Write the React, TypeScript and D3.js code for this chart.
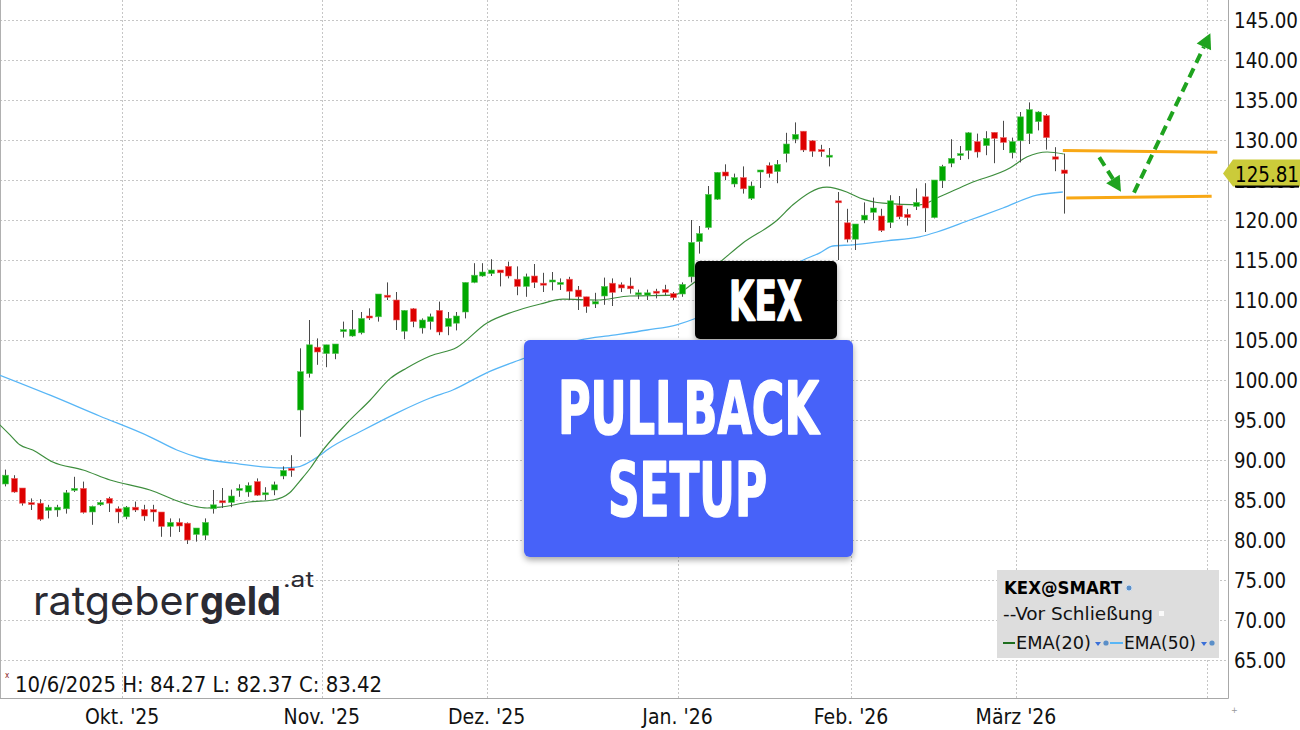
import React from "react";
import * as d3 from "d3";

const W = 1300;
const H = 730;

// OHLC values, one entry per trading day (index 0 = first visible candle)
const opens = [
  87.0, 87.7, 86.5, 84.67, 84.6, 83.7, 83.75, 83.9, 86.25, 86.45, 83.5, 84.4, 85.2, 83.9, 82.9, 84.1, 83.8, 83.8, 83.5, 81.7,
  82.2, 82.1, 80.7, 80.6, 83.9, 84.9, 84.7, 86.2, 86.0, 87.3, 85.75, 86.25, 88.0, 88.96,
  96.25, 100.8, 104.1, 103.3, 103.3, 106.1, 105.5, 105.9, 108.0, 107.9, 110.6, 110.0, 106.1, 108.9, 106.5, 107.3, 108.7, 106.7,
  107.1, 108.5, 112.2, 113.0, 113.3, 113.75, 114.2, 112.6, 111.7, 113.0, 112.1, 112.3, 112.0, 112.6, 111.25, 110.4, 109.5,
  110.5, 112.1, 111.9, 111.75, 110.7, 110.6, 111.1, 111.3, 110.8, 110.75,
  112.9, 117.3, 119.05, 122.6, 126.0, 124.5, 125.3, 122.7, 126.05, 126.8, 126.05, 128.3, 130.1, 131.1, 129.9, 128.8, 128.0,
  122.4, 119.65, 117.6,
  120.0, 120.96, 120.5, 119.7, 121.8, 120.7, 121.7, 122.9, 120.3, 124.9, 127.1, 128.1, 128.7, 129.8, 129.3, 130.96, 130.3,
  128.4, 129.9, 130.8, 132.3, 133.05, 127.9, 126.25,
];
const highs = [
  88.8, 88.1, 86.5, 85.2, 85.1, 84.4, 84.4, 86.25, 87.9, 87.3, 84.3, 85.0, 85.4, 84.2, 84.25, 84.8, 84.4, 84.4, 83.5, 82.7,
  82.7, 82.2, 81.5, 82.7, 86.25, 86.5, 86.3, 86.96, 87.2, 87.7, 86.6, 87.3, 89.2, 90.6,
  103.96, 107.5, 105.2, 104.4, 104.5, 107.3, 108.75, 108.5, 108.96, 110.75, 112.2, 111.0, 108.75, 109.0, 107.7, 108.3, 109.8,
  108.5, 108.5, 112.2, 114.6, 114.6, 115.1, 113.75, 114.8, 114.2, 113.3, 114.5, 113.4, 113.5, 112.7, 112.9, 111.75, 110.4,
  110.9, 112.8, 112.7, 112.2, 112.8, 111.3, 111.3, 111.4, 111.9, 111.0, 112.2,
  120.0, 119.25, 124.25, 126.0, 126.96, 125.8, 126.7, 124.8, 126.25, 127.2, 127.5, 130.9, 132.2, 131.1, 130.0, 129.4, 129.0,
  123.5, 121.4, 119.5,
  122.2, 122.8, 121.4, 123.1, 123.0, 121.4, 123.95, 124.6, 125.0, 126.9, 130.1, 129.25, 131.0, 130.8, 131.1, 130.96, 132.4,
  130.3, 133.5, 134.7, 133.6, 133.25, 129.1, 128.3,
];
const lows = [
  86.7, 85.9, 84.3, 83.75, 82.4, 82.7, 82.9, 83.3, 86.0, 83.3, 81.9, 84.25, 83.5, 82.1, 82.6, 83.5, 82.4, 82.3, 80.4, 80.4,
  81.0, 79.5, 79.8, 80.0, 83.3, 84.0, 84.1, 85.4, 85.4, 85.5, 85.0, 85.6, 87.6, 87.9,
  92.9, 100.3, 101.9, 101.6, 102.6, 105.3, 105.4, 105.7, 107.5, 107.3, 110.0, 106.25, 105.1, 106.6, 105.8, 106.3, 105.6,
  105.6, 106.2, 107.7, 112.1, 112.9, 113.0, 111.7, 112.7, 110.6, 110.4, 111.5, 111.0, 111.2, 111.25, 110.0, 108.75, 108.4,
  109.0, 109.4, 109.25, 111.0, 110.8, 110.1, 110.0, 110.2, 110.6, 110.0, 110.4,
  112.2, 115.8, 118.8, 122.5, 125.0, 124.1, 123.3, 122.5, 124.0, 125.3, 124.6, 127.2, 129.6, 128.5, 127.9, 127.9, 126.7,
  115.0, 117.2, 116.25,
  119.6, 120.0, 118.5, 119.0, 120.1, 119.3, 121.25, 118.5, 120.2, 124.0, 126.6, 127.5, 127.6, 127.8, 128.1, 127.1, 128.75,
  127.7, 127.2, 129.5, 131.2, 128.8, 126.1, 120.8,
];
const closes = [
  88.1, 86.0, 84.6, 84.46, 82.6, 84.1, 84.1, 85.9, 86.45, 83.46, 84.2, 84.7, 84.6, 83.5, 84.1, 83.75, 83.0, 83.5, 81.7, 82.2,
  81.75, 80.0, 81.5, 82.2, 84.4, 84.7, 85.5, 86.45, 86.8, 85.6, 85.9, 86.9, 88.7, 88.75,
  101.04, 104.4, 103.5, 104.4, 104.5, 106.3, 106.3, 107.7, 107.8, 110.75, 110.4, 107.5, 108.7, 107.3, 107.5, 107.9, 106.0,
  107.7, 108.0, 112.2, 113.1, 113.5, 113.75, 113.4, 113.0, 111.7, 112.9, 112.2, 111.9, 112.5, 112.2, 111.1, 110.4, 109.2,
  109.8, 111.7, 110.95, 111.5, 111.4, 110.9, 110.9, 110.9, 110.96, 110.3, 111.96,
  117.2, 118.3, 123.2, 125.96, 125.5, 125.3, 123.9, 124.25, 126.25, 125.8, 126.96, 129.5, 130.7, 128.75, 128.6, 128.6, 128.1,
  122.2, 117.6, 119.5,
  120.6, 121.5, 118.7, 122.4, 120.4, 120.3, 122.2, 121.5, 125.0, 126.7, 127.7, 128.3, 130.9, 128.5, 130.2, 130.2, 129.7,
  129.8, 132.9, 133.8, 133.5, 130.3, 127.6, 125.81,
];

// EMA lines: [candle index, value]
const ema20: [number, number][] = [
  [-0.6, 94.4], [0.6, 93.1], [1.7, 91.9], [3.2, 91.25], [5.5, 89.75], [9.0, 88.75], [12.1, 87.5], [16.7, 86.25],
  [20.2, 84.75], [21.7, 84.25], [23.3, 84.0], [24.8, 84.1], [28.2, 84.75], [30.9, 85.0], [32.8, 85.9], [34.0, 87.4],
  [35.2, 89.0], [36.4, 90.9], [39.4, 94.6], [42.1, 97.5], [44.4, 100.2], [46.3, 101.5], [49.0, 103.0], [52.1, 104.1],
  [55.5, 107.1], [58.5, 108.5], [61.7, 109.5], [64.3, 110.1], [68.2, 110.0], [72.0, 110.5], [77.0, 110.6], [79.3, 112.1],
  [82.4, 114.75], [85.0, 117.1], [89.0, 120.0], [90.8, 121.9], [94.7, 124.1], [97.0, 123.5], [98.5, 122.75],
  [101.2, 122.1], [105.4, 121.9], [107.7, 122.9], [111.2, 124.6], [115.8, 126.5], [117.8, 127.9], [120.1, 128.5],
  [122.0, 128.25],
];
const ema50: [number, number][] = [
  [-0.6, 100.6], [5.2, 98.1], [10.9, 95.5], [16.7, 92.9], [19.8, 91.25], [22.5, 90.25], [26.3, 89.6], [32.0, 89.0],
  [33.6, 89.1], [36.3, 90.6], [37.1, 91.25], [41.3, 93.75], [45.2, 95.9], [49.0, 97.75], [51.6, 98.75], [55.5, 100.9],
  [59.3, 102.5], [62.5, 103.75], [66.3, 105.0], [70.1, 105.6], [74.0, 106.25], [77.4, 106.9], [79.7, 107.75],
  [85.8, 111.3], [92.0, 115.0], [93.9, 115.9], [95.4, 116.75], [97.7, 116.9], [101.6, 117.4], [105.4, 117.9],
  [107.4, 118.5], [111.2, 120.0], [115.0, 121.5], [118.9, 123.1], [121.9, 123.5],
];

// x axis: month labels placed at month boundaries (candle index)
const monthLabels = ["Okt. '25", "Nov. '25", "Dez. '25", "Jan. '26", "Feb. '26", "März '26", ""];
const monthTickIdx = [13.5, 36.5, 55.5, 77.5, 97.5, 116.5, 138.5];

// y axis ticks
const yTicks = d3.range(65, 146, 5);
const lastPrice = 125.81;

// drawn annotation: support/resistance levels and arrows [index, value]
const upperLevel: [number, number][] = [[121.9, 128.7], [139.7, 128.46]];
const lowerLevel: [number, number][] = [[122.3, 122.75], [139.05, 122.96]];
const arrowDown: [number, number][] = [[126.1, 127.84], [128.6, 123.54]];
const arrowUp: [number, number][] = [[130.1, 123.41], [138.9, 143.33]];

const infoText = "10/6/2025 H: 84.27 L: 82.37 C: 83.42";

const AX = "'DejaVu Sans Condensed', 'DejaVu Sans', sans-serif";
const PLOT_RIGHT = 1228.5;
const PLOT_BOTTOM = 698.5;

function Arrow({ pts, x, y }: { pts: [number, number][]; x: any; y: any }) {
  const sx = x(pts[0][0]);
  const sy = y(pts[0][1]);
  const tx = x(pts[1][0]);
  const ty = y(pts[1][1]);
  const a = Math.atan2(ty - sy, tx - sx);
  const L = 15;
  const hw = 8;
  const bx = tx - L * Math.cos(a);
  const by = ty - L * Math.sin(a);
  const p1 = [bx - hw * Math.sin(a), by + hw * Math.cos(a)];
  const p2 = [bx + hw * Math.sin(a), by - hw * Math.cos(a)];
  return (
    <g>
      <line x1={sx} y1={sy} x2={bx} y2={by} stroke="#1fa31f" strokeWidth={4} strokeDasharray="10 6" />
      <polygon points={`${tx},${ty} ${p1[0]},${p1[1]} ${p2[0]},${p2[1]}`} fill="#1fa31f" />
    </g>
  );
}

function labelWidth(s: string) {
  // digit ≈ 12px, period ≈ 4px in the reference axis font
  return s.replace(".", "").length * 12 + 4;
}

export default function App() {
  const n = closes.length;
  const x = d3.scaleLinear().domain([0, n - 1]).range([5, 1063.7]);
  const y = d3.scaleLinear().domain([65, 145]).range([660, 20]);

  const lineGen = d3
    .line<[number, number]>()
    .x((d) => x(d[0]))
    .y((d) => y(d[1]))
    .curve(d3.curveMonotoneX);

  const bodyW = 6;
  const lp = y(lastPrice);

  return (
    <svg
      width={W}
      height={H}
      viewBox={`0 0 ${W} ${H}`}
      style={{ position: "absolute", left: 0, top: 0, display: "block", background: "#fff" }}
    >
      <defs>
        <clipPath id="plotClip">
          <rect x={0} y={0} width={PLOT_RIGHT} height={PLOT_BOTTOM} />
        </clipPath>
        <filter id="shadow" x="-10%" y="-10%" width="120%" height="130%">
          <feDropShadow dx={0} dy={3} stdDeviation={3} floodColor="#000" floodOpacity={0.35} />
        </filter>
      </defs>
      <rect x={0} y={0} width={W} height={H} fill="#fff" />

      {/* grid */}
      <g stroke="#c6c6c6" strokeWidth={1} strokeDasharray="2 2">
        {yTicks.map((t) => (
          <line key={"h" + t} x1={0} x2={PLOT_RIGHT} y1={Math.round(y(t)) + 0.5} y2={Math.round(y(t)) + 0.5} />
        ))}
        {monthTickIdx.map((m, i) => (
          <line key={"v" + i} x1={Math.round(x(m)) + 0.5} x2={Math.round(x(m)) + 0.5} y1={0} y2={PLOT_BOTTOM} />
        ))}
      </g>

      {/* frame */}
      <line x1={0.5} x2={0.5} y1={0} y2={PLOT_BOTTOM} stroke="#b0b0b0" />
      <line x1={PLOT_RIGHT} x2={PLOT_RIGHT} y1={0} y2={PLOT_BOTTOM} stroke="#a8a8a8" />
      <line x1={0} x2={PLOT_RIGHT} y1={PLOT_BOTTOM} y2={PLOT_BOTTOM} stroke="#a8a8a8" />

      {/* logo */}
      <text x={33} y={615} fontFamily="Inter, 'Noto Sans', sans-serif" fontSize={40} fontWeight={400} fill="#2b2b33" textLength={166} lengthAdjust="spacingAndGlyphs">
        ratgeber
      </text>
      <text x={200} y={615} fontFamily="Inter, 'Noto Sans', sans-serif" fontSize={40} fontWeight={700} fill="#2b2b33" textLength={81} lengthAdjust="spacingAndGlyphs">
        geld
      </text>
      <text x={283} y={587} fontFamily="Inter, 'Noto Sans', sans-serif" fontSize={21} fontWeight={400} fill="#2b2b33" textLength={31} lengthAdjust="spacingAndGlyphs">
        .at
      </text>

      {/* EMAs */}
      <g clipPath="url(#plotClip)">
        <path d={lineGen(ema50) || ""} fill="none" stroke="#58b6f6" strokeWidth={1.3} />
        <path d={lineGen(ema20) || ""} fill="none" stroke="#3e8e3e" strokeWidth={1.2} />
      </g>

      {/* candles */}
      <g>
        {closes.map((c, i) => {
          const o = opens[i];
          const up = c >= o;
          const cx = Math.round(x(i));
          const top = y(Math.max(o, c));
          const bot = y(Math.min(o, c));
          const col = up ? "#00a800" : "#dd0000";
          return (
            <g key={i}>
              <line x1={cx + 0.5} x2={cx + 0.5} y1={y(highs[i])} y2={y(lows[i])} stroke="#4a4a4a" strokeWidth={1} />
              <rect
                x={cx + 0.5 - bodyW / 2}
                y={top}
                width={bodyW}
                height={Math.max(2, bot - top)}
                fill={col}
                stroke={up ? "#5cc65c" : "#ee6666"}
                strokeWidth={0.6}
              />
            </g>
          );
        })}
      </g>

      {/* annotation levels */}
      <g stroke="#f8a815" strokeWidth={3}>
        <line x1={x(upperLevel[0][0])} y1={y(upperLevel[0][1])} x2={x(upperLevel[1][0])} y2={y(upperLevel[1][1])} />
        <line x1={x(lowerLevel[0][0])} y1={y(lowerLevel[0][1])} x2={x(lowerLevel[1][0])} y2={y(lowerLevel[1][1])} />
      </g>
      <Arrow pts={arrowDown} x={x} y={y} />
      <Arrow pts={arrowUp} x={x} y={y} />

      {/* y axis labels */}
      <g fontFamily={AX} fontSize={21} fill="#111">
        {yTicks.map((t) => {
          const s = t.toFixed(2);
          return (
            <text key={"yl" + t} x={1234} y={y(t) + 1} dominantBaseline="central" textLength={labelWidth(s)} lengthAdjust="spacingAndGlyphs">
              {s}
            </text>
          );
        })}
      </g>
      {/* last price tag */}
      <g>
        <polygon points={`1223,${lp} 1233,${lp - 14} 1300,${lp - 14} 1300,${lp + 13} 1233,${lp + 13}`} fill="#cbcb3a" />
        <text
          x={1235}
          y={lp + 1}
          dominantBaseline="central"
          fontFamily={AX}
          fontSize={21}
          fill="#000"
          textDecoration="underline"
          textLength={labelWidth(lastPrice.toFixed(2))}
          lengthAdjust="spacingAndGlyphs"
        >
          {lastPrice.toFixed(2)}
        </text>
      </g>
      <text x={1231} y={713} fontFamily={AX} fontSize={9} fill="#999">+</text>

      {/* x axis labels */}
      <g fontFamily={AX} fontSize={21} fill="#111" textAnchor="middle">
        {monthLabels.map((m, i) =>
          m ? (
            <text key={"xl" + i} x={x(monthTickIdx[i])} y={724}>
              {m}
            </text>
          ) : null
        )}
      </g>

      {/* hover info */}
      <text x={5} y={678} fontFamily={AX} fontSize={8} fill="#8a1a1a">x</text>
      <text x={15} y={692} fontFamily={AX} fontSize={21} fill="#111" textLength={367} lengthAdjust="spacingAndGlyphs">
        {infoText}
      </text>

      {/* legend */}
      <g>
        <rect x={997} y={570} width={222} height={88} fill="#dddddd" />
        <text x={1004} y={594} fontFamily={AX} fontSize={17} fontWeight={700} fill="#000" textLength={118} lengthAdjust="spacingAndGlyphs">
          KEX@SMART
        </text>
        <circle cx={1129} cy={588} r={3} fill="#5b8fc8" stroke="#cfe0f2" strokeWidth={1} />
        <text x={1003} y={620} fontFamily={AX} fontSize={17} fill="#111" textLength={150} lengthAdjust="spacingAndGlyphs">
          --Vor Schließung
        </text>
        <rect x={1159} y={611} width={5} height={5} fill="#fafafa" />
        <line x1={1003} x2={1015} y1={643} y2={643} stroke="#1e6e1e" strokeWidth={2} />
        <text x={1016} y={649} fontFamily={AX} fontSize={17} fill="#111" textLength={75} lengthAdjust="spacingAndGlyphs">
          EMA(20)
        </text>
        <polygon points="1095,642 1101,642 1098,646" fill="#3a6fd8" />
        <circle cx={1106} cy={643} r={2.6} fill="#5b8fc8" />
        <line x1={1110} x2={1123} y1={643} y2={643} stroke="#58b6f6" strokeWidth={2} />
        <text x={1124} y={649} fontFamily={AX} fontSize={17} fill="#111" textLength={72} lengthAdjust="spacingAndGlyphs">
          EMA(50)
        </text>
        <polygon points="1201,642 1207,642 1204,646" fill="#3a6fd8" />
        <circle cx={1212} cy={643} r={2.6} fill="#5b8fc8" />
      </g>

      {/* overlay boxes */}
      <g filter="url(#shadow)">
        <rect x={695} y={261} width={142} height={78} rx={5} fill="#000" />
        <rect x={524} y={340} width={329} height={217} rx={6} fill="#4762f9" />
      </g>
      <g fontFamily={AX} fontWeight={700} fill="#fff" stroke="#fff" strokeWidth={1.6} strokeLinejoin="round">
        <text x={729} y={320} fontSize={56} textLength={73} lengthAdjust="spacingAndGlyphs">KEX</text>
        <text x={558} y={434} fontSize={73} textLength={261} lengthAdjust="spacingAndGlyphs">PULLBACK</text>
        <text x={608} y={516} fontSize={74} textLength={159} lengthAdjust="spacingAndGlyphs">SETUP</text>
      </g>
    </svg>
  );
}
